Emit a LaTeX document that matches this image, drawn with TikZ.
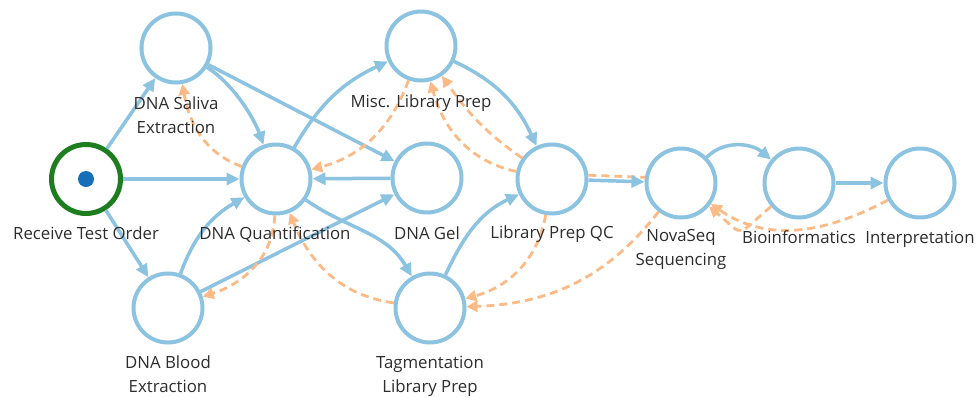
\documentclass[tikz,border=0pt]{standalone}
\usepackage{fontspec}
\setmainfont{Open Sans}
\usetikzlibrary{arrows.meta}
\definecolor{nodeblue}{RGB}{140,195,225}
\definecolor{dashorange}{RGB}{252,186,134}
\definecolor{startgreen}{RGB}{30,125,30}
\definecolor{dotblue}{RGB}{22,110,184}
\definecolor{labelgray}{RGB}{45,45,45}
\begin{document}
\begin{tikzpicture}[x=1pt,y=-1pt,
  stage/.style={circle, draw=nodeblue, line width=4pt, minimum size=69pt, inner sep=0pt, fill=white},
  startstage/.style={stage, draw=startgreen, line width=5pt},
  lbl/.style={anchor=base, align=center, text=labelgray, font=\fontsize{16.8}{23.5}\selectfont, inner sep=0pt},
  flow/.style={draw=nodeblue, line width=3.5pt, -{Triangle[length=13pt,width=12pt]}},
  back/.style={draw=dashorange, line width=2.8pt, dash pattern=on 8pt off 5pt, -{Triangle[length=11pt,width=11pt]}},
]
\useasboundingbox (0,0) rectangle (977,397);
\fill[white] (0,0) rectangle (977,397);

% stages
\node[startstage] (rto) at (86,179) {};
\node[circle, fill=dotblue, minimum size=16pt, inner sep=0pt] (dot) at (86,179) {};
\node[stage] (sal) at (176,48) {};
\node[stage] (qua) at (276,179) {};
\node[stage] (blo) at (168,308) {};
\node[stage] (mis) at (421,46) {};
\node[stage] (gel) at (427,178) {};
\node[stage] (lqc) at (552,179) {};
\node[stage] (tag) at (430,308) {};
\node[stage] (nov) at (681,183) {};
\node[stage] (bio) at (799,183) {};
\node[stage] (int) at (920,183) {};

% orange companion along LibQC -> NovaSeq
\draw[back,-] (lqc.6) -- (nov.171);

% forward flow
\draw[flow] (rto) -- (sal);
\draw[flow] (rto) -- (qua);
\draw[flow] (rto) -- (blo);
\draw[flow] (sal) to[out=-32,in=110,looseness=0.8] (qua);
\draw[flow] (sal) -- (gel);
\draw[flow] (qua) to[out=60,in=205] (mis);
\draw[flow] (gel) -- (qua);
\draw[flow] (qua) to[out=-35,in=120] (tag);
\draw[flow] (blo) to[out=70,in=210] (qua);
\draw[flow] (blo) -- (gel);
\draw[flow] (mis) to[out=-25,in=115] (lqc);
\draw[flow] (tag) to[out=65,in=205] (lqc);
\draw[flow] (lqc) -- (nov);
\draw[flow] (nov) to[out=45,in=140] (bio);
\draw[flow] (bio) -- (int);

% backward (dashed)
\draw[back] (qua) to[out=160,in=-80] (sal);
\draw[back] (mis) to[out=-110,in=15] (qua);
\draw[back] (lqc) to[out=145,in=-55] (mis);
\draw[back] (lqc) to[out=168,in=-75] (mis);
\draw[back] (qua) to[out=-92,in=18] (blo);
\draw[back] (tag) to[out=172,in=-68] (qua);
\draw[back] (lqc) to[out=-100,in=15] (tag);
\draw[back] (nov) to[out=-128,in=2] (tag);
\draw[back] (bio) to[out=-140,in=-40,looseness=2] (nov);
\draw[back] (int) to[out=-152,in=-35] (nov);

% labels (base = baseline of the last line)
\node[lbl] (lrto) at (86,239) {Receive Test Order};
\node[lbl] (lsal) at (176,133) {DNA Saliva\\Extraction};
\node[lbl] (lqua) at (275,239) {DNA Quantification};
\node[lbl] (lgel) at (427,239) {DNA Gel};
\node[lbl] (llqc) at (552,238) {Library Prep QC};
\node[lbl] (lblo) at (168,392) {DNA Blood\\Extraction};
\node[lbl] (lmis) at (421,107) {Misc. Library Prep};
\node[lbl] (ltag) at (430,392) {Tagmentation\\Library Prep};
\node[lbl] (lnov) at (681,265) {NovaSeq\\Sequencing};
\node[lbl] (lbio) at (799,243) {Bioinformatics};
\node[lbl] (lint) at (920,243) {Interpretation};
\end{tikzpicture}
\end{document}
